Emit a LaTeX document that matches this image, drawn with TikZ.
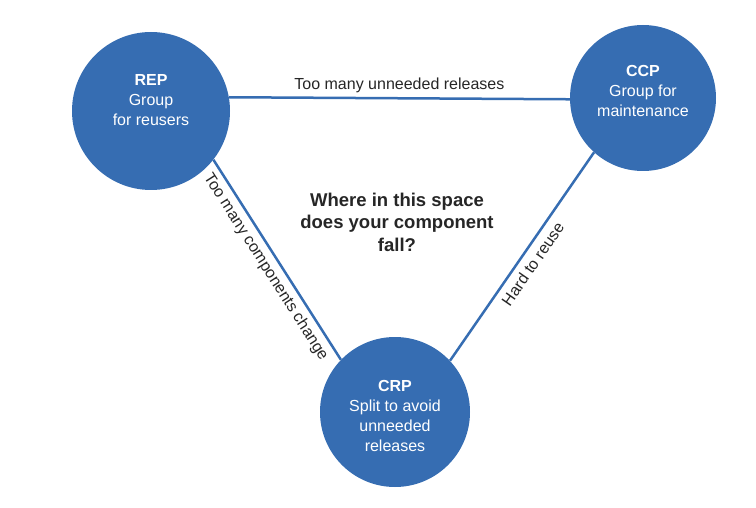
\documentclass[tikz,border=0pt]{standalone}
\usepackage{fontspec}
\setmainfont{Liberation Sans}
\definecolor{cpblue}{RGB}{54,109,178}

\begin{document}
\begin{tikzpicture}[x=1pt,y=-1pt,
  principle/.style={circle,fill=cpblue,inner sep=0pt},
  ptext/.style={white,align=center,font=\fontsize{16}{20}\selectfont},
  tensionline/.style={cpblue,line width=2.5pt},
  tlabel/.style={black!85,font=\fontsize{16}{20}\selectfont}]

\useasboundingbox (0,0) rectangle (756,508);

% the three principles
\node[principle,minimum size=158pt] (rep) at (151,111) {};
\node[principle,minimum size=146pt] (ccp) at (643,98) {};
\node[principle,minimum size=150pt] (crp) at (395,412) {};

\node[ptext] (reptext) at (151,100) {\textbf{REP}\\Group\\for reusers};
\node[ptext] (ccptext) at (643,91) {\textbf{CCP}\\Group for\\maintenance};
\node[ptext] (crptext) at (395,416) {\textbf{CRP}\\Split to avoid\\unneeded\\releases};

% tensions between them
\draw[tensionline] (rep.10) -- node[tlabel,above,inner sep=4pt] {Too many unneeded releases} (ccp.181);
\draw[tensionline] (rep.-38) -- node[tlabel,sloped,below,inner sep=5pt] {Too many components change} (crp.136);
\draw[tensionline] (crp.43) -- node[tlabel,sloped,below,inner sep=6pt] {Hard to reuse} (ccp.228);

\node[black!85,align=center,font=\fontsize{18.5}{22.5}\selectfont\bfseries] (question) at (397,222)
  {Where in this space\\does your component\\fall?};

\end{tikzpicture}
\end{document}
